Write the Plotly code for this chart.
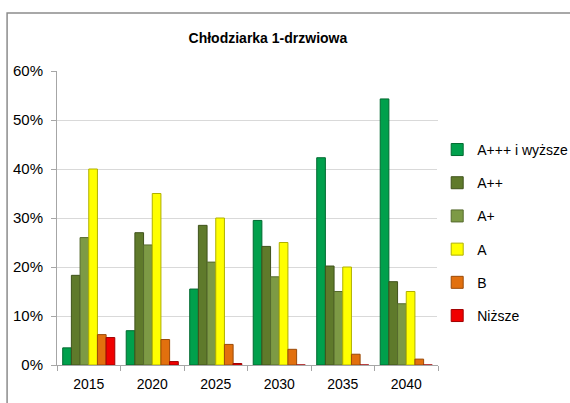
import plotly.graph_objects as go

years = ["2015", "2020", "2025", "2030", "2035", "2040"]
series_names = ["A+++ i wyższe", "A++", "A+", "A", "B", "Niższe"]
a3 = [3.5, 7.0, 15.5, 29.5, 42.3, 54.3]
a2 = [18.3, 27.0, 28.5, 24.2, 20.2, 17.0]
a1 = [26.0, 24.5, 21.0, 18.0, 15.0, 12.5]
a0 = [40.0, 35.0, 30.0, 25.0, 20.0, 15.0]
b = [6.2, 5.2, 4.2, 3.2, 2.2, 1.2]
lower = [5.6, 0.7, 0.3, 0.0, 0.0, 0.0]
values = [a3, a2, a1, a0, b, lower]
colors = ["#00A04C", "#5F7A2B", "#7D9A45", "#FFFF00", "#E2700E", "#F00000"]
edges = ["#006A30", "#3F521B", "#566B2D", "#B0B000", "#9A4A08", "#A00000"]

fig = go.Figure()
for i, (name, vals, c, e) in enumerate(zip(series_names, values, colors, edges)):
    fig.add_trace(go.Bar(
        x=years, y=[v / 100 for v in vals], name=name, legendgroup=f"g{i}",
        marker=dict(color=c, line=dict(color=e, width=1)),
    ))

font = "Liberation Sans"
fig.update_layout(
    width=570, height=403,
    margin=dict(l=57, r=132, t=71, b=38, autoexpand=False),
    paper_bgcolor="white", plot_bgcolor="white",
    barmode="group", bargap=0.18, bargroupgap=0,
    title=dict(text="<b>Chłodziarka 1-drzwiowa</b>", x=0.47, xanchor="center",
               y=0.905, yanchor="middle", font=dict(family=font, size=14, color="black")),
    legend=dict(xref="container", yref="container", x=0.767, y=0.422,
                yanchor="middle", xanchor="left",
                font=dict(family=font, size=14, color="black"),
                tracegroupgap=12, itemwidth=30, traceorder="grouped"),
    xaxis=dict(showgrid=False, showline=True, linecolor="#A6A6A6", linewidth=1,
               ticks="outside", tickson="boundaries", ticklen=5, tickcolor="#A6A6A6",
               ticklabelstandoff=6,
               tickfont=dict(family=font, size=14, color="black")),
    yaxis=dict(range=[0, 0.6], dtick=0.1, tickformat=".0%", showgrid=True,
               gridcolor="#D9D9D9", showline=True, linecolor="#A6A6A6", linewidth=1,
               ticks="outside", ticklen=5, tickcolor="#A6A6A6", zeroline=False,
               ticklabelstandoff=5,
               tickfont=dict(family=font, size=15, color="black")),
    shapes=[dict(type="rect", xref="paper", yref="paper",
                 x0=-0.131, y0=-0.2, x1=1.5, y1=1.197,
                 line=dict(color="#8C8C8C", width=1.5), fillcolor="rgba(0,0,0,0)", layer="below")],
)

fig.write_html("out.html", config={"displayModeBar": False},
               post_script="document.body.style.margin='0';")
